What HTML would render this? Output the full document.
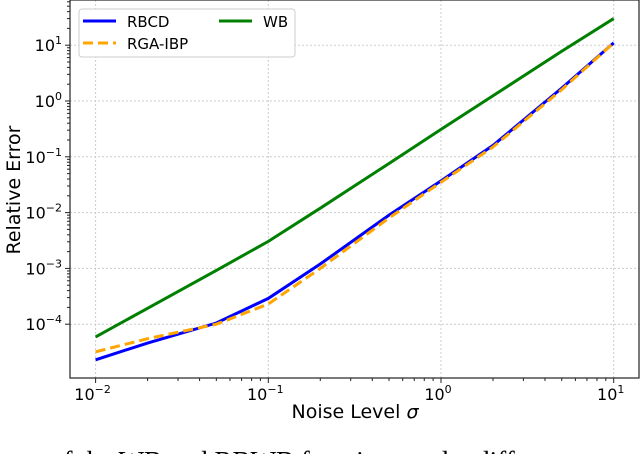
<!DOCTYPE html>
<html><head><meta charset="utf-8"><style>
body{margin:0;background:#fff;width:640px;height:454px;overflow:hidden}
svg{display:block;font-family:"DejaVu Sans","Liberation Sans",sans-serif}
</style></head><body>
<svg id="chart" width="640" height="454">
<g id="grid"></g>
<g id="ticks"></g>
<g id="series"></g>
<rect x="70" y="0" width="569" height="378" fill="none" stroke="#222" stroke-width="1.2"/>
<g>
<rect x="79" y="9" width="216" height="48" rx="3" fill="#fff" stroke="#ccc"/>
<line x1="83" y1="21" x2="116" y2="21" stroke="#0000ff" stroke-width="3"/>
<text x="127" y="27" font-size="15">RBCD</text>
<line x1="83" y1="43" x2="116" y2="43" stroke="#ffa500" stroke-width="3" stroke-dasharray="10,5"/>
<text x="127" y="49" font-size="15">RGA-IBP</text>
<line x1="219" y1="21" x2="252" y2="21" stroke="#008000" stroke-width="3"/>
<text x="263" y="27" font-size="15">WB</text>
</g>
<text x="355" y="418" font-size="19" text-anchor="middle">Noise Level <tspan font-style="italic">σ</tspan></text>
<text transform="translate(20,190) rotate(-90)" font-size="19" text-anchor="middle">Relative Error</text>
<text x="50" y="470" font-size="27" font-family="Liberation Serif,serif">of the WB and RBWB functions under different</text>
</svg>
<script>
const xs=[0.01,0.02,0.05,0.1,0.2,0.5,1,2,5,10];
const wb=[5.9e-5,1.93e-4,9.2e-4,3.05e-3,1.2e-2,7.6e-2,0.31,1.24,7.8,30];
const rbcd=[2.3e-5,4.6e-5,1.05e-4,2.9e-4,1.2e-3,9e-3,0.037,0.16,1.7,11];
const rga=[3.2e-5,5.5e-5,1.0e-4,2.3e-4,1.0e-3,8e-3,0.035,0.15,1.6,11];
const xTicks=[-2,-1,0,1];
const yTicks=[-4,-3,-2,-1,0,1];
const X=v=>441+172.7*Math.log10(v);
const Y=v=>101-55.8*Math.log10(v);
const NS="http://www.w3.org/2000/svg";
function mk(t,a,p){const e=document.createElementNS(NS,t);for(const k in a)e.setAttribute(k,a[k]);p.appendChild(e);return e;}
const grid=document.getElementById('grid'),ticks=document.getElementById('ticks'),ser=document.getElementById('series');
xTicks.forEach(d=>{const x=X(Math.pow(10,d));
const g=mk('line',{x1:x,x2:x,y1:0,y2:378,stroke:'#ccc','stroke-dasharray':'2,2'},grid);


mk('line',{x1:x,x2:x,y1:378,y2:383,stroke:'#222'},ticks);
const t=mk('text',{x:x-3,y:400,'font-size':16,'text-anchor':'middle'},ticks);


t.innerHTML='10<tspan dy="-7" font-size="11">'+(d<0?'−'+(-d):d)+'</tspan>';
for(let m=2;m<10;m++){const xm=X(m*Math.pow(10,d));if(xm>70&&xm<639)mk('line',{x1:xm,x2:xm,y1:378,y2:381,stroke:'#222'},ticks);}
});
yTicks.forEach(d=>{const y=Y(Math.pow(10,d));
const g=mk('line',{x1:70,x2:639,y1:y,y2:y,stroke:'#ccc','stroke-dasharray':'2,2'},grid);


mk('line',{x1:65,x2:70,y1:y,y2:y,stroke:'#222'},ticks);
const t=mk('text',{x:62,y:y+6,'font-size':16,'text-anchor':'end'},ticks);


t.innerHTML='10<tspan dy="-7" font-size="11">'+(d<0?'−'+(-d):d)+'</tspan>';
for(let m=2;m<10;m++){const ym=Y(m*Math.pow(10,d));if(ym>0&&ym<378)mk('line',{x1:67,x2:70,y1:ym,y2:ym,stroke:'#222'},ticks);}
});
[[wb,'#008000',null,'wb-line'],[rbcd,'#0000ff',null,'rbcd-line'],[rga,'#ffa500','10,5','rga-ibp-line']].forEach(([v,c,da,n])=>{
const a={points:xs.map((x,i)=>X(x)+','+Y(v[i])).join(' '),fill:'none',stroke:c,'stroke-width':3};
if(da)a['stroke-dasharray']=da;
const p=mk('polyline',a,ser);


});
</script>
</body></html>
